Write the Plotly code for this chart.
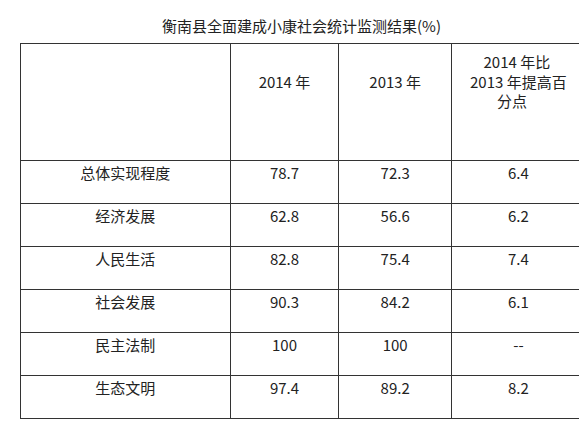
import plotly.graph_objects as go

title = "衡南县全面建成小康社会统计监测结果(%)"
NB = "&nbsp;"
headers = ["", NB + "<br>2014 年", NB + "<br>2013 年",
           NB*4 + "2014 年比<br>2013 年提高百<br>" + NB*8 + "分点"]
items = ["总体实现程度", "经济发展", "人民生活", "社会发展", "民主法制", "生态文明"]
v2014 = ["78.7", "62.8", "82.8", "90.3", "100", "97.4"]
v2013 = ["72.3", "56.6", "75.4", "84.2", "100", "89.2"]
diff = ["6.4", "6.2", "7.4", "6.1", "--", "8.2"]

W, H = 587, 430
font = dict(family="Noto Sans CJK SC", size=15, color="#222")
fig = go.Figure(go.Table(
    domain=dict(x=[12/W, 577/W], y=[0, 1-35/H]),
    columnwidth=[210, 108, 113, 133],
    header=dict(values=headers, height=117, align="center", font=font,
                fill_color="white", line=dict(color="#333", width=1)),
    cells=dict(values=[items, v2014, v2013, diff], height=43, align="center", font=font,
               fill_color="white", line=dict(color="#333", width=1)),
))
fig.add_annotation(text=title, x=0.5, y=1-18/H, xref="paper", yref="paper",
                   xanchor="center", yanchor="middle",
                   showarrow=False, font=dict(family="Noto Sans CJK SC", size=15, color="#222"))
fig.update_layout(width=W, height=H, margin=dict(l=0, r=0, t=0, b=0),
                  paper_bgcolor="white", plot_bgcolor="white")
fig.write_html("out.html")
